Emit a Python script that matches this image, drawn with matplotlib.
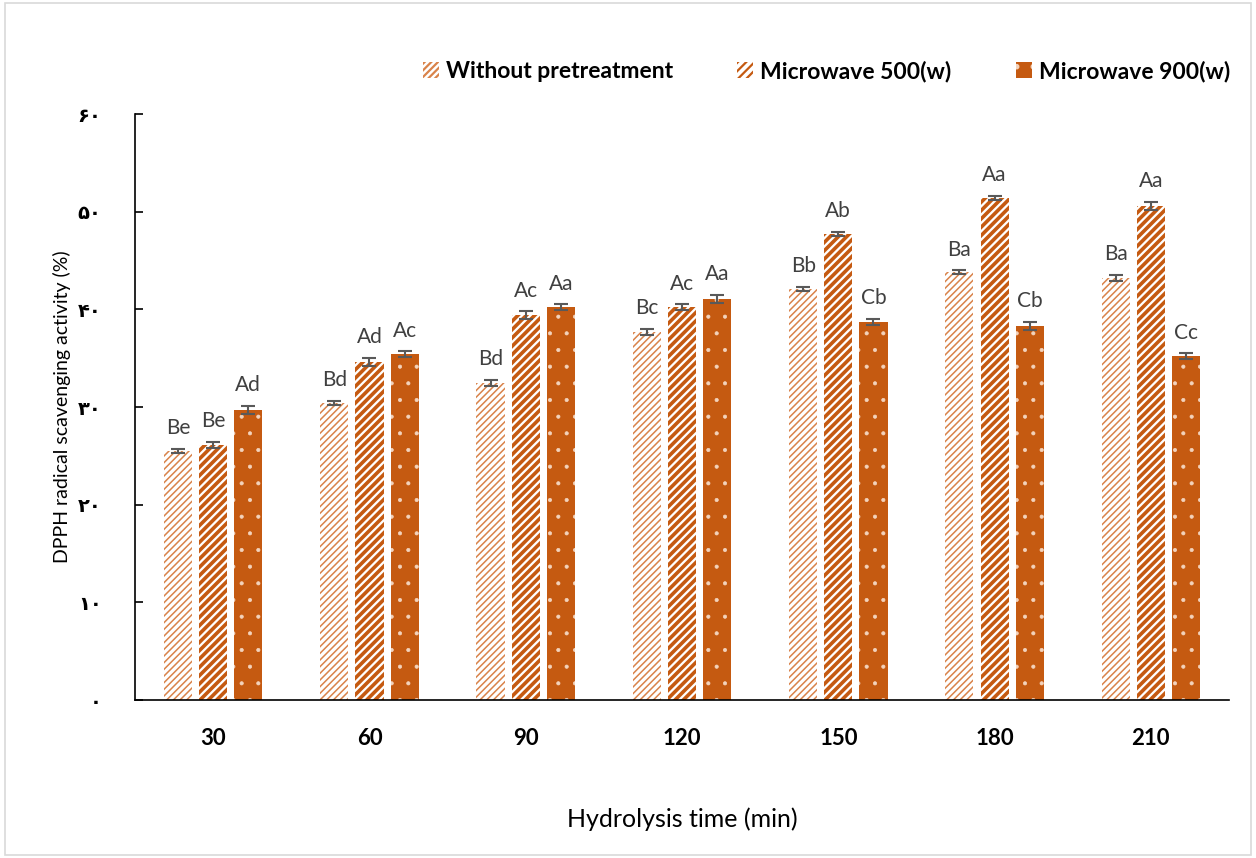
import matplotlib
matplotlib.use("Agg")
import matplotlib.pyplot as plt
import numpy as np
from matplotlib.patches import Patch

categories = ["30", "60", "90", "120", "150", "180", "210"]
without = [25.5, 30.4, 32.5, 37.7, 42.1, 43.8, 43.2]
mw500 = [26.1, 34.6, 39.4, 40.2, 47.7, 51.4, 50.6]
mw900 = [29.7, 35.4, 40.2, 41.1, 38.7, 38.3, 35.2]
err_without = [0.2, 0.2, 0.3, 0.3, 0.2, 0.2, 0.3]
err_500 = [0.3, 0.4, 0.4, 0.3, 0.2, 0.2, 0.4]
err_900 = [0.4, 0.3, 0.3, 0.4, 0.3, 0.4, 0.3]
lab_without = ["Be", "Bd", "Bd", "Bc", "Bb", "Ba", "Ba"]
lab_500 = ["Be", "Ad", "Ac", "Ac", "Ab", "Aa", "Aa"]
lab_900 = ["Ad", "Ac", "Aa", "Aa", "Cb", "Cb", "Cc"]
ytick_vals = [0, 10, 20, 30, 40, 50, 60]
ytick_labels = ["۰", "۱۰", "۲۰", "۳۰", "۴۰", "۵۰", "۶۰"]
series_names = ["Without pretreatment", "Microwave 500(w)", "Microwave 900(w)"]

orange = "#C55A11"
light_orange = "#D9834A"
dot_col = "#F3D3BC"
grey = "#595959"
plt.rcParams['font.family'] = ['Lato', 'DejaVu Sans']
plt.rcParams['hatch.linewidth'] = 1.6

fig = plt.figure(figsize=(12.56, 8.58), dpi=100)
ax = fig.add_axes([0.1075, 0.1841, 0.8710, 0.6830])

x = np.arange(len(categories))
w = 0.18
step = 0.225

b1 = ax.bar(x - step, without, w, facecolor="white", edgecolor=light_orange, hatch="/////", linewidth=0)
b2 = ax.bar(x, mw500, w, facecolor="white", edgecolor=orange, hatch="////", linewidth=0)
b3 = ax.bar(x + step, mw900, w, facecolor=orange, edgecolor=dot_col, hatch=".", linewidth=0)
for b in b1:
    if hasattr(b, "set_hatch_linewidth"):
        b.set_hatch_linewidth(1.1)
for b in b2:
    if hasattr(b, "set_hatch_linewidth"):
        b.set_hatch_linewidth(2.6)
for b in b3:
    if hasattr(b, "set_hatch_linewidth"):
        b.set_hatch_linewidth(0.5)

for xs, vals, errs, labs in [(x - step, without, err_without, lab_without),
                             (x, mw500, err_500, lab_500),
                             (x + step, mw900, err_900, lab_900)]:
    ax.errorbar(xs, vals, yerr=errs, fmt="none", ecolor=grey, elinewidth=1.5, capsize=5, capthick=1.5)
    for xi, v, e, l in zip(xs, vals, errs, labs):
        ax.text(xi, v + e + 1.1, l, ha="center", va="bottom", fontsize=15, color="#404040")

ax.set_xlim(-0.5, len(categories) - 0.5)
ax.set_ylim(0, 60)
ax.set_yticks(ytick_vals)
ax.set_yticklabels(ytick_labels, fontsize=14, fontweight="bold", family=["DejaVu Sans"])
ax.set_xticks(x)
ax.set_xticklabels(categories, fontsize=16, fontweight="bold")
ax.tick_params(axis="y", direction="in", length=6, width=1.2, pad=24)
ax.tick_params(axis="x", length=0, pad=20)
for s in ["top", "right"]:
    ax.spines[s].set_visible(False)
ax.spines["left"].set_linewidth(1.2)
ax.spines["bottom"].set_linewidth(1.2)

ax.set_ylabel("DPPH radical scavenging activity (%)", fontsize=14, labelpad=5)
ax.set_xlabel("Hydrolysis time (min)", fontsize=18, labelpad=42)

handles = [Patch(facecolor="white", edgecolor=light_orange, hatch="/////", linewidth=0),
           Patch(facecolor="white", edgecolor=orange, hatch="////", linewidth=0),
           Patch(facecolor=orange, edgecolor=dot_col, hatch=".", linewidth=0)]
fig.legend(handles, series_names, loc="center", bbox_to_anchor=(0.658, 0.917), ncol=3,
           frameon=False, prop={"size": 16.5, "weight": "bold"}, handlelength=0.7,
           handleheight=0.7, columnspacing=2.8, handletextpad=0.3)

border = plt.Rectangle((0.004, 0.004), 0.992, 0.992, transform=fig.transFigure,
                       fill=False, edgecolor="#D9D9D9", linewidth=1.2)
fig.patches.append(border)

fig.savefig("out.png", dpi=100)
